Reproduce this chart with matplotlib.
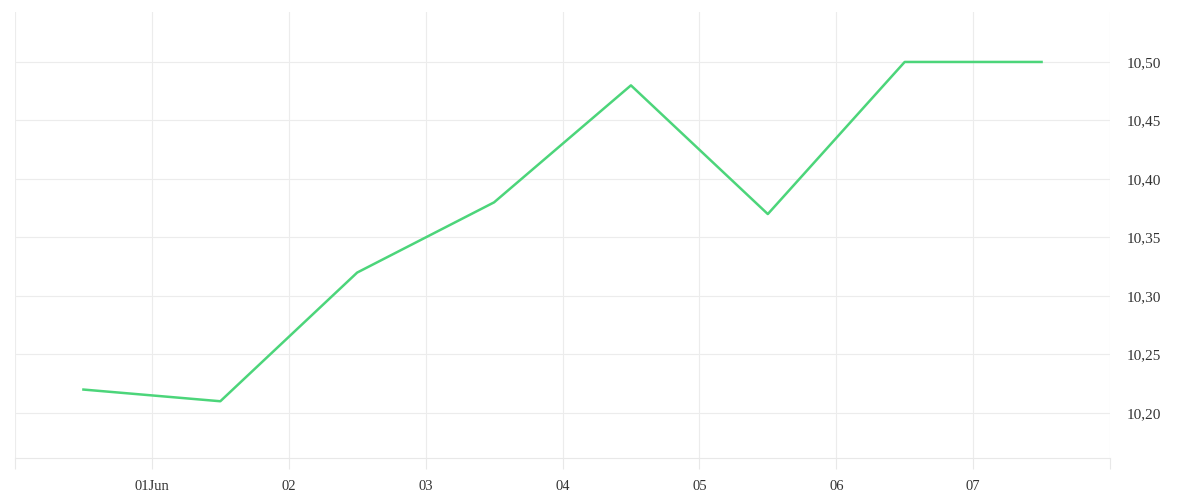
import numpy as np
import pandas as pd
import matplotlib.dates as mdates
from matplotlib import pyplot as plt

# Data (one point per day, at midday)
dates = pd.date_range("2024-05-31 12:00", periods=8, freq="D")
values = [10.22, 10.21, 10.32, 10.38, 10.48, 10.37, 10.50, 10.50]

grid_days = pd.date_range("2024-05-31", "2024-06-08", freq="D")
day_labels = ["", "01Jun", "02", "03", "04", "05", "06", "07", ""]
y_ticks = [10.20, 10.25, 10.30, 10.35, 10.40, 10.45, 10.50]

plt.rcParams["font.family"] = ["Liberation Serif", "DejaVu Serif"]

fig = plt.figure(figsize=(12, 5), dpi=100)
ax = fig.add_axes([0.0125, 0.084, 0.9125, 0.892])

ax.plot(dates, values, color="#4cd57a", linewidth=1.8)

ax.set_xlim(grid_days[0], grid_days[-1])
ax.set_ylim(10.1615, 10.5427)

ax.set_xticks(grid_days)
ax.set_xticklabels(day_labels)
ax.set_yticks(y_ticks)
ax.set_yticklabels([f"{v:.2f}".replace(".", ",") for v in y_ticks])

ax.yaxis.tick_right()
ax.tick_params(axis="y", length=0, pad=12, labelsize=11, labelcolor="#333333")
ax.tick_params(axis="x", length=8, color="#e8e8e8", pad=8, labelsize=10.5,
               labelcolor="#333333")

ax.grid(True, color="#ececec", linewidth=0.8)
ax.set_axisbelow(True)
for side in ["left", "right", "top"]:
    ax.spines[side].set_visible(False)
ax.spines["bottom"].set_color("#e8e8e8")

plt.savefig("out.png")
